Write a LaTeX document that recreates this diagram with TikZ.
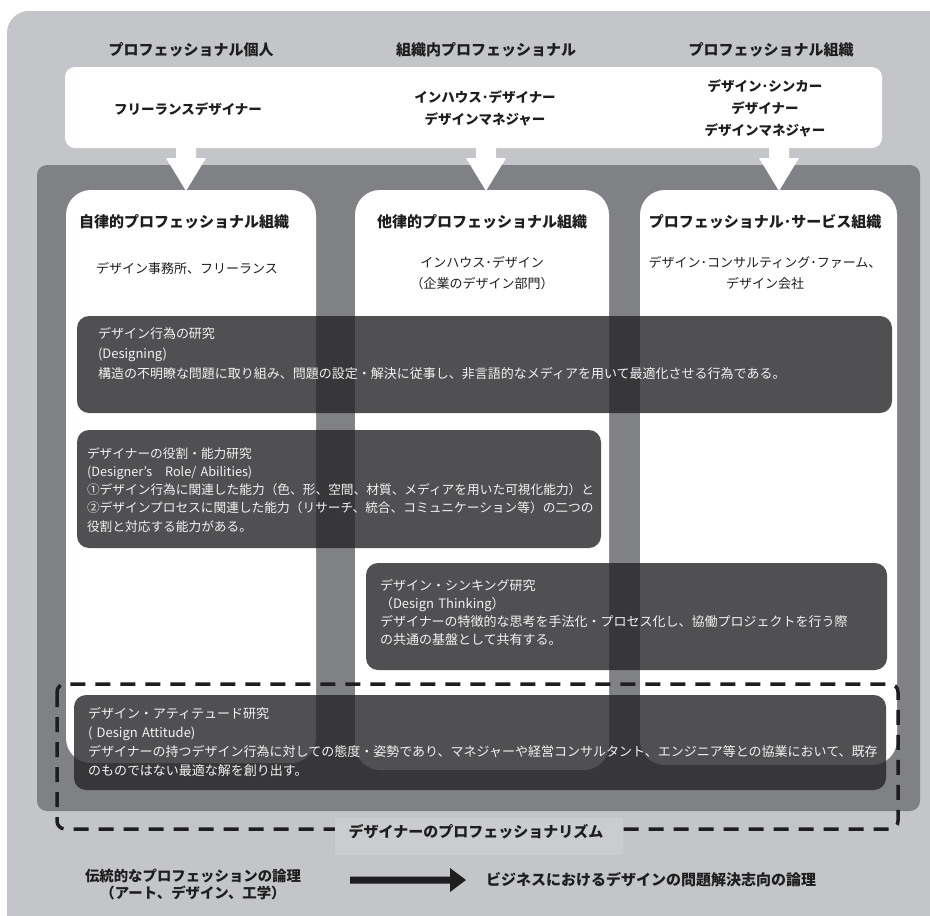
\documentclass[tikz,border=0pt]{standalone}
\usepackage{fontspec}
\setmainfont{Noto Sans CJK JP}
\usetikzlibrary{arrows.meta}
\definecolor{outergray}{HTML}{C4C5C8}
\definecolor{midgray}{HTML}{808185}
\definecolor{boxdark}{HTML}{252527}
\definecolor{txtdark}{HTML}{1E1E1E}
\definecolor{boxtxt}{HTML}{F2F2F2}
\definecolor{labelgray}{HTML}{CBCCCF}
\begin{document}
\begin{tikzpicture}[x=1pt,y=-1pt,
  every node/.style={inner sep=0pt, outer sep=0pt},
  ttl/.style={font=\bfseries\fontsize{15}{18}\selectfont, text=txtdark},
  wtext/.style={font=\bfseries\fontsize{13.5}{22}\selectfont, text=txtdark, align=center},
  colhead/.style={font=\bfseries\fontsize{15}{18}\selectfont, text=txtdark},
  coltext/.style={font=\fontsize{13}{21}\selectfont, text=txtdark, align=center},
  colbox/.style={fill=white, rounded corners=25pt, anchor=north west},
  darkbox/.style={fill=boxdark, fill opacity=0.8, rounded corners=12pt, anchor=north west},
  boxtext/.style={font=\fontsize{13}{19}\selectfont, text=boxtxt, align=left, anchor=base west, text width=820pt},
  fatarrow/.pic={\fill[white] (-10,-46) -- (10,-46) -- (10,-33) -- (20,-33) -- (0,0) -- (-20,-33) -- (-10,-33) -- cycle;},
]
\useasboundingbox (0,0) rectangle (930,916);
\clip (0,0) rectangle (930,916);
\fill[white] (0,0) rectangle (930,916);
% outer light gray panel
\fill[outergray, rounded corners=22pt] (7,11) rectangle (960,950);

% titles
\node[ttl] (t1) at (191,50) {プロフェッショナル個人};
\node[ttl] (t2) at (486,50) {組織内プロフェッショナル};
\node[ttl] (t3) at (771,50) {プロフェッショナル組織};

% top white box
\node[fill=white, rounded corners=10pt, anchor=north west, minimum width=817pt, minimum height=81pt] (topbox) at (65,67) {};
\node[wtext] (w1) at (188,109) {フリーランスデザイナー};
\node[wtext] (w2) at (485,108) {インハウス･デザイナー\\デザインマネジャー};
\node[wtext] (w3) at (765,108) {デザイン･シンカー\\デザイナー\\デザインマネジャー};

% mid gray panel
\node[fill=midgray, rounded corners=10pt, anchor=north west, minimum width=883pt, minimum height=646pt] (panel) at (37,165) {};

% columns
\node[colbox, minimum width=250pt, minimum height=573pt] (colA) at (66,190) {};
\node[colbox, minimum width=254pt, minimum height=580pt] (colB) at (355,190) {};
\node[colbox, minimum width=257pt, minimum height=575pt] (colC) at (640,190) {};

% arrows from top box to columns
\coordinate (a1) at (186,191);
\coordinate (a2) at (486,191);
\coordinate (a3) at (779,191);
\pic at (a1) {fatarrow};
\pic at (a2) {fatarrow};
\pic at (a3) {fatarrow};

% column headers and contents
\node[colhead] (hA) at (184,222) {自律的プロフェッショナル組織};
\node[colhead] (hB) at (482,222) {他律的プロフェッショナル組織};
\node[colhead] (hC) at (765,222) {プロフェッショナル･サービス組織};
\node[coltext] (cA) at (187,268) {デザイン事務所、フリーランス};
\node[coltext] (cB) at (482,273) {インハウス･デザイン\\（企業のデザイン部門）};
\node[coltext] (cC) at (765,273) {デザイン･コンサルティング･ファーム、\\デザイン会社};

% dark translucent boxes
\node[darkbox, minimum width=815pt, minimum height=97pt] (bD) at (77,316) {};
\node[boxtext] (tD) at (98,338) {デザイン行為の研究\\[1pt](Designing)\\[1pt]構造の不明瞭な問題に取り組み、問題の設定・解決に従事し、非言語的なメディアを用いて最適化させる行為である。};

\node[darkbox, minimum width=524pt, minimum height=118pt] (bR) at (77,430) {};
\node[boxtext, font=\fontsize{12.7}{18.3}\selectfont] (tR) at (87,458) {デザイナーの役割・能力研究\\(Designer’s\quad Role/ Abilities)\\①デザイン行為に関連した能力（色、形、空間、材質、メディアを用いた可視化能力）と\\②デザインプロセスに関連した能力（リサーチ、統合、コミュニケーション等）の二つの\\役割と対応する能力がある。};

\node[darkbox, minimum width=521pt, minimum height=107pt] (bT) at (366,563) {};
\node[boxtext, font=\fontsize{13}{18}\selectfont] (tT) at (380,590) {デザイン・シンキング研究\\（Design Thinking）\\デザイナーの特徴的な思考を手法化・プロセス化し、協働プロジェクトを行う際\\の共通の基盤として共有する。};

\node[darkbox, minimum width=812pt, minimum height=95pt] (bA) at (74,695) {};
\node[boxtext] (tA) at (88,718) {デザイン・アティテュード研究\\( Design Attitude)\\デザイナーの持つデザイン行為に対しての態度・姿勢であり、マネジャーや経営コンサルタント、エンジニア等との協業において、既存\\のものではない最適な解を創り出す。};

% dashed professionalism frame
\draw[line width=3.5pt, dash pattern=on 15pt off 10pt, rounded corners=8pt, txtdark] (57,684) rectangle (898,829);
\node[fill=labelgray, minimum width=288pt, minimum height=37pt] (lblbox) at (479,836) {};
\node[ttl] (lbl) at (476,832) {デザイナーのプロフェッショナリズム};

% bottom logic transition
\node[font=\bfseries\fontsize{14.4}{17}\selectfont, text=txtdark, align=center] (left) at (193,884) {伝統的なプロフェッションの論理\\（アート、デザイン、工学）};
\node[font=\bfseries\fontsize{15}{18}\selectfont, text=txtdark, anchor=west] (right) at (486,880) {ビジネスにおけるデザインの問題解決志向の論理};
\coordinate (arrS) at (350,880);
\coordinate (arrE) at (466,880);
\fill[txtdark] (arrS) ++(0,-3.5) -- ++(100,0) -- ++(0,-8.5) -- (arrE) -- (450,892) -- ++(0,-8.5) -- (350,883.5) -- cycle;
\end{tikzpicture}
\end{document}
